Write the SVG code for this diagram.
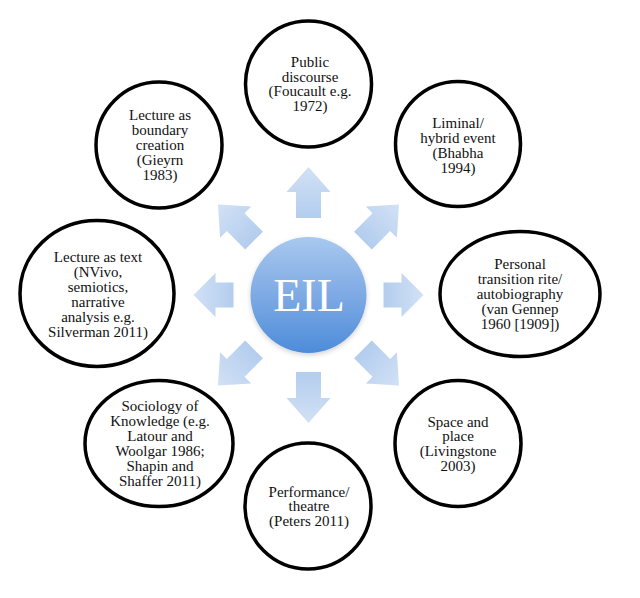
<svg xmlns="http://www.w3.org/2000/svg" width="640" height="598" viewBox="0 0 640 598">
<defs>
<style>
.node{fill:#fff;stroke:#000;stroke-width:3.5}
.lbl{font-family:"Liberation Serif","Times New Roman",serif;font-size:15px;fill:#111;text-anchor:middle}
.arr{fill:url(#arrGrad)}
</style>
<linearGradient id="arrGrad" x1="0" y1="0" x2="1" y2="0">
<stop offset="0" stop-color="#b3cdee"/>
<stop offset="1" stop-color="#d2e1f5"/>
</linearGradient>
<linearGradient id="eilGrad" x1="0" y1="0" x2="0" y2="1">
<stop offset="0" stop-color="#a8c8ef"/>
<stop offset="0.5" stop-color="#7eaae4"/>
<stop offset="1" stop-color="#4d8cda"/>
</linearGradient>
<filter id="soft" x="-30%" y="-30%" width="160%" height="160%">
<feGaussianBlur in="SourceAlpha" stdDeviation="2.5"/>
<feOffset dy="2" result="b"/>
<feFlood flood-color="#000" flood-opacity="0.18"/>
<feComposite in2="b" operator="in"/>
<feMerge><feMergeNode/><feMergeNode in="SourceGraphic"/></feMerge>
</filter>
<path id="arrLong" d="M77,-12.5 H103 V-22 L128,0 L103,22 V12.5 H77 Z"/>
<path id="arrShort" d="M75,-12.5 H93 V-22 L115,0 L93,22 V12.5 H75 Z"/>
</defs>
<rect width="640" height="598" fill="#fff"/>

<g id="connectors" class="arr" transform="translate(308.5,295)">
<use href="#arrLong" transform="rotate(-90)"/>
<use href="#arrLong" transform="rotate(-45)"/>
<use href="#arrShort" transform="rotate(0)"/>
<use href="#arrLong" transform="rotate(45)"/>
<use href="#arrLong" transform="rotate(90)"/>
<use href="#arrLong" transform="rotate(135)"/>
<use href="#arrShort" transform="rotate(180)"/>
<use href="#arrLong" transform="rotate(-135)"/>
</g>

<g id="eil">
<circle cx="308.5" cy="295" r="58" fill="url(#eilGrad)" filter="url(#soft)"/>
<text x="309" y="311" font-family="Liberation Serif, Times New Roman, serif" font-size="46" fill="#fff" text-anchor="middle">EIL</text>
</g>

<g id="public-discourse">
<circle class="node" cx="308.5" cy="84" r="63"/>
<text class="lbl" x="310"><tspan x="310" y="67">Public</tspan><tspan x="310" y="81.5">discourse</tspan><tspan x="310" y="96">(Foucault e.g.</tspan><tspan x="310" y="110.5">1972)</tspan></text>
</g>

<g id="boundary-creation">
<circle class="node" cx="159" cy="145" r="63"/>
<text class="lbl"><tspan x="160" y="120">Lecture as</tspan><tspan x="160" y="135">boundary</tspan><tspan x="160" y="150">creation</tspan><tspan x="160" y="165">(Gieyrn</tspan><tspan x="160" y="180">1983)</tspan></text>
</g>

<g id="liminal">
<circle class="node" cx="458" cy="144" r="62.5"/>
<text class="lbl"><tspan x="458" y="128">Liminal/</tspan><tspan x="458" y="143">hybrid event</tspan><tspan x="458" y="158">(Bhabha</tspan><tspan x="458" y="173">1994)</tspan></text>
</g>

<g id="lecture-text">
<ellipse class="node" cx="97" cy="293.5" rx="77" ry="73"/>
<text class="lbl"><tspan x="98" y="261.5">Lecture as text</tspan><tspan x="98" y="276.5">(NVivo,</tspan><tspan x="98" y="291.5">semiotics,</tspan><tspan x="98" y="306.5">narrative</tspan><tspan x="98" y="321.5">analysis e.g.</tspan><tspan x="98" y="336.5">Silverman 2011)</tspan></text>
</g>

<g id="personal-transition">
<ellipse class="node" cx="520" cy="294" rx="80" ry="62.5"/>
<text class="lbl"><tspan x="520" y="269">Personal</tspan><tspan x="520" y="284">transition rite/</tspan><tspan x="520" y="299">autobiography</tspan><tspan x="520" y="314">(van Gennep</tspan><tspan x="520" y="329">1960 [1909])</tspan></text>
</g>

<g id="sociology">
<ellipse class="node" cx="159" cy="443.5" rx="74" ry="63"/>
<text class="lbl"><tspan x="160" y="411">Sociology of</tspan><tspan x="160" y="426">Knowledge (e.g.</tspan><tspan x="160" y="441">Latour and</tspan><tspan x="160" y="456">Woolgar 1986;</tspan><tspan x="160" y="471">Shapin and</tspan><tspan x="160" y="486">Shaffer 2011)</tspan></text>
</g>

<g id="performance">
<circle class="node" cx="308" cy="506" r="63"/>
<text class="lbl"><tspan x="309" y="496.5">Performance/</tspan><tspan x="309" y="511">theatre</tspan><tspan x="309" y="525.5">(Peters 2011)</tspan></text>
</g>

<g id="space-place">
<circle class="node" cx="458" cy="443.5" r="63"/>
<text class="lbl"><tspan x="458" y="426.5">Space and</tspan><tspan x="458" y="441">place</tspan><tspan x="458" y="456">(Livingstone</tspan><tspan x="458" y="470.5">2003)</tspan></text>
</g>
</svg>
